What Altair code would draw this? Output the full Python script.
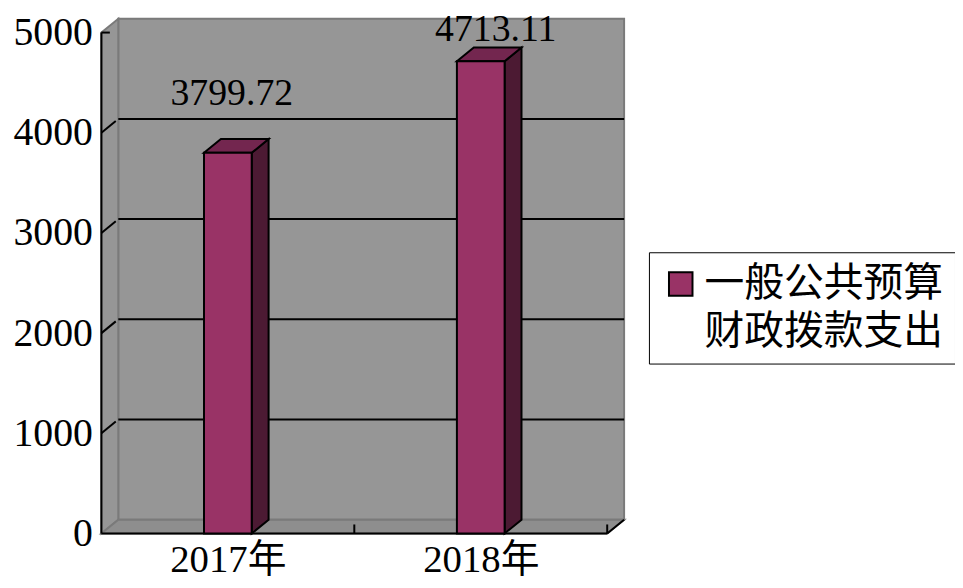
import json
import altair as alt
import pandas as pd

# ---- data ----
categories = ["2017年", "2018年"]
values = [3799.72, 4713.11]
value_labels = ["3799.72", "4713.11"]
series_name = "一般公共预算财政拨款支出"
y_ticks = [0, 1000, 2000, 3000, 4000, 5000]
grid_values = [1000, 2000, 3000, 4000]

# ---- 3-D geometry constants (style) ----
DX = 0.0668      # depth offset along x, in category units
DY = 138.0       # depth offset along y, in value units
HALF = 0.0943    # half bar width, in category units
YMAX = 5000
NCAT = len(categories)

FRONT = "#993366"
TOP = "#73264f"
SIDE = "#4c1a33"
WALL = "#969696"
FLOOR = "#8e8e8e"
EDGE = "#7a7a7a"

xs = alt.Scale(domain=[0, NCAT + DX], nice=False, zero=False)
ys = alt.Scale(domain=[0, YMAX + DY], nice=False, zero=False)

x_axis = alt.Axis(
    title=None, values=[i + 0.5 for i in range(NCAT)],
    labelExpr=f"{json.dumps(categories, ensure_ascii=False)}[floor(datum.value)]",
    labelFont="Liberation Serif, Noto Sans CJK SC", labelFontSize=39, labelColor="black",
    labelPadding=7, labelFlush=False, domain=False, ticks=False, grid=False,
)
y_axis = alt.Axis(
    title=None, values=y_ticks, format="d", labelFont="Liberation Serif", labelFontSize=40,
    labelColor="black", labelPadding=9, labelFlush=False, domain=False, ticks=False, grid=False,
)


def X(f):
    return alt.X(f, type="quantitative", scale=xs, axis=x_axis)


def Y(f):
    return alt.Y(f, type="quantitative", scale=ys, axis=y_axis)


# ---- walls ----
back_df = pd.DataFrame([{"x": DX, "x2": NCAT + DX, "y": DY, "y2": YMAX + DY}])
back = alt.Chart(back_df).mark_rect(fill=WALL, stroke=EDGE, strokeWidth=2).encode(
    x=X("x"), x2="x2", y=Y("y"), y2="y2")

side_df = pd.DataFrame([{"x": 0, "lo": 0, "hi": YMAX}, {"x": DX, "lo": DY, "hi": YMAX + DY}])
side_wall = alt.Chart(side_df).mark_area(orient="vertical", fill=WALL, stroke=EDGE, strokeWidth=2).encode(
    x=X("x"), y=Y("hi"), y2="lo")

floor_df = pd.DataFrame([
    {"x": 0, "lo": 0, "hi": 0}, {"x": DX, "lo": 0, "hi": DY},
    {"x": NCAT, "lo": 0, "hi": DY}, {"x": NCAT + DX, "lo": DY, "hi": DY}])
floor = alt.Chart(floor_df).mark_area(orient="vertical", fill=FLOOR, stroke=EDGE, strokeWidth=2).encode(
    x=X("x"), y=Y("hi"), y2="lo")

# ---- gridlines ----
grid_df = pd.DataFrame({"v": grid_values})
grid_df["x"] = DX
grid_df["x2"] = NCAT + DX
grid_df["yb"] = grid_df["v"] + DY
back_grid = alt.Chart(grid_df).mark_rule(color="black", strokeWidth=2).encode(
    x=X("x"), x2="x2", y=Y("yb"))
side_grid = alt.Chart(grid_df.assign(x0=0.0, x1=DX * 0.85, y1=grid_df["v"] + DY * 0.85)).mark_rule(
    color="black", strokeWidth=2).encode(x=X("x0"), x2="x1", y=Y("v"), y2="y1")

# ---- axis lines and ticks ----
axis_df = pd.DataFrame([
    {"x": 0, "x2": 0, "y": 0, "y2": YMAX},                 # front value axis
    {"x": 0, "x2": NCAT, "y": 0, "y2": 0},                 # front category axis
    {"x": NCAT, "x2": NCAT + DX, "y": 0, "y2": DY},        # right floor corner
    {"x": 0, "x2": DX * 0.5, "y": YMAX, "y2": YMAX},       # top tick
] + [{"x": float(i), "x2": float(i), "y": 0, "y2": 90} for i in range(1, NCAT + 1)])
axis_lines = alt.Chart(axis_df).mark_rule(color="black", strokeWidth=2).encode(
    x=X("x"), x2="x2", y=Y("y"), y2="y2")

# ---- bars ----
bar_rows, side_rows, top_rows = [], [], []
for i, (c, v) in enumerate(zip(categories, values)):
    pos = i + 0.5
    x0, x1 = pos - HALF, pos + HALF
    bar_rows.append({"cat": c, "series": series_name, "x0": x0, "x1": x1, "v": v, "pos": pos,
                     "label": value_labels[i]})
    side_rows += [{"cat": c, "x": x1, "lo": 0, "hi": v},
                  {"cat": c, "x": x1 + DX, "lo": DY, "hi": v + DY}]
    top_rows += [{"cat": c, "x": x0, "lo": v, "hi": v},
                 {"cat": c, "x": x0 + DX, "lo": v, "hi": v + DY},
                 {"cat": c, "x": x1, "lo": v, "hi": v + DY},
                 {"cat": c, "x": x1 + DX, "lo": v + DY, "hi": v + DY}]
bar_df = pd.DataFrame(bar_rows)
side_bar_df = pd.DataFrame(side_rows)
top_bar_df = pd.DataFrame(top_rows)

bar_side = alt.Chart(side_bar_df).mark_area(
    orient="vertical", fill=SIDE, stroke="black", strokeWidth=2, strokeJoin="miter").encode(
    x=X("x"), y=Y("hi"), y2="lo", detail="cat:N")
bar_top = alt.Chart(top_bar_df).mark_area(
    orient="vertical", fill=TOP, stroke="black", strokeWidth=2, strokeJoin="miter").encode(
    x=X("x"), y=Y("hi"), y2="lo", detail="cat:N")
bar_front = alt.Chart(bar_df).mark_rect(stroke="black", strokeWidth=2).encode(
    x=X("x0"), x2="x1", y=Y("v"), y2=alt.datum(0),
    color=alt.Color("series:N", scale=alt.Scale(domain=[series_name], range=[FRONT]),
                    legend=alt.Legend(
                        title=None, orient="none", legendX=551, legendY=235,
                        strokeColor="black", fillColor="white", padding=12,
                        symbolType="square", symbolSize=560, symbolStrokeColor="black",
                        symbolStrokeWidth=2, labelFont="Noto Sans CJK SC", labelFontSize=40,
                        labelColor="black", labelLimit=400, labelOffset=4,
                        labelBaseline="middle",
                        labelExpr="[substring(datum.label, 0, 6), substring(datum.label, 6)]")))

# value labels (offsets differ per bar as in the original)
label_offsets = [(4, -59), (15, -31)]
labels = []
for i, (ddx, ddy) in enumerate(label_offsets):
    labels.append(alt.Chart(bar_df).transform_filter(alt.datum.cat == categories[i]).mark_text(
        font="Liberation Serif", fontSize=38, color="black", dx=ddx, dy=ddy,
        baseline="middle", align="center").encode(x=X("pos"), y=Y("v"), text="label:N"))

chart = alt.layer(back, side_wall, floor, back_grid, side_grid, axis_lines,
                  bar_side, bar_top, bar_front, *labels).properties(
    width=526, height=518,
    autosize=alt.AutoSizeParams(type="none"),
    padding={"left": 94, "top": 9, "right": 333, "bottom": 45},
    background="white",
).configure(style={"guide-label": {"lineHeight": 48}}).configure_view(stroke=None)

chart.save("out.html", embed_options={"renderer": "svg", "actions": False})
